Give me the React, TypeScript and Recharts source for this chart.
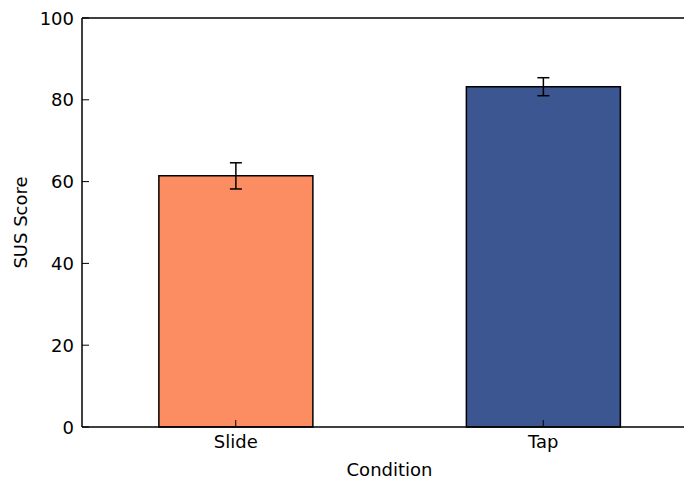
import React from 'react';
import { BarChart, Bar, XAxis, YAxis, ErrorBar, Cell, ReferenceLine } from 'recharts';

const conditions = ['Slide', 'Tap'];
const susMeans = [61.4, 83.2];
const susErrors = [3.2, 2.2];
const barColors = ['#FC8D62', '#3B5690'];
const yTicks = [0, 20, 40, 60, 80, 100];

const data = conditions.map((c, i) => ({ condition: c, sus: susMeans[i], err: susErrors[i] }));

const FONT = 'DejaVu Sans, sans-serif';

const XTick = (props: any) => {
  const { x, y, payload } = props;
  return (
    <g>
      <line x1={x} y1={y} x2={x} y2={y - 7} stroke="#000" strokeWidth={1} />
      <text x={x} y={y + 21} textAnchor="middle" fontFamily={FONT} fontSize={18} fill="#000">
        {payload.value}
      </text>
    </g>
  );
};

const YTick = (props: any) => {
  const { x, y, payload } = props;
  return (
    <g>
      <line x1={x} y1={y} x2={x + 7} y2={y} stroke="#000" strokeWidth={1} />
      <text x={x - 8} y={y + 6.5} textAnchor="end" fontFamily={FONT} fontSize={18} fill="#000">
        {payload.value}
      </text>
    </g>
  );
};

export default function App() {
  return (
    <div style={{ position: 'absolute', left: 0, top: 0, width: 684, height: 480, overflow: 'hidden', background: '#fff' }}>
      <BarChart
        width={697}
        height={480}
        data={data}
        margin={{ top: 18, right: 0, bottom: 0, left: 0 }}
        barCategoryGap="25%"
      >
        <XAxis
          dataKey="condition"
          type="category"
          height={53}
          tickSize={0}
          tickMargin={0}
          tick={<XTick />}
          axisLine={{ stroke: '#000', strokeWidth: 1.5 }}
          tickLine={false}
          interval={0}
          label={{ value: 'Condition', position: 'insideBottom', offset: 4, fontFamily: FONT, fontSize: 18, fill: '#000' }}
        />
        <YAxis
          type="number"
          domain={[0, 100]}
          ticks={yTicks}
          width={82}
          tickSize={0}
          tickMargin={0}
          tick={<YTick />}
          axisLine={{ stroke: '#000', strokeWidth: 1.5 }}
          tickLine={false}
          label={{ value: 'SUS Score', angle: -90, position: 'insideLeft', offset: 21, fontFamily: FONT, fontSize: 18, fill: '#000', style: { textAnchor: 'middle' } }}
        />
        <ReferenceLine y={100} stroke="#000" strokeWidth={1.5} />
        <Bar dataKey="sus" stroke="#000" strokeWidth={1.5} isAnimationActive={false}>
          {data.map((d, i) => (
            <Cell key={d.condition} fill={barColors[i]} />
          ))}
          <ErrorBar dataKey="err" width={6} stroke="#000" strokeWidth={1.5} />
        </Bar>
      </BarChart>
    </div>
  );
}
